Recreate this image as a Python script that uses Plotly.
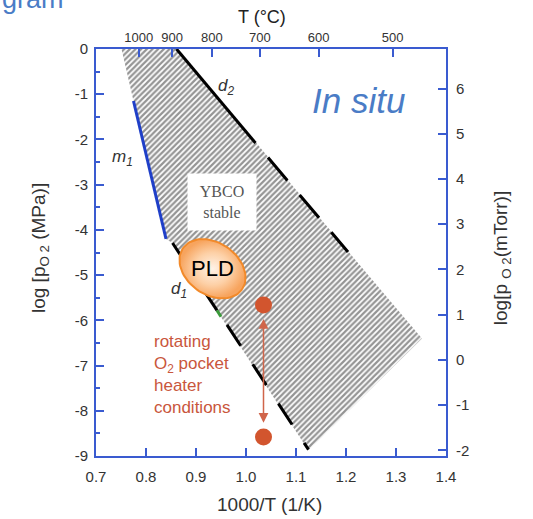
import numpy as np
import plotly.graph_objects as go

# ---------------- data ----------------
x_ticks = [0.7, 0.8, 0.9, 1.0, 1.1, 1.2, 1.3, 1.4]
x_tick_labels = ["0.7", "0.8", "0.9", "1.0", "1.1", "1.2", "1.3", "1.4"]
y_left_ticks = [0, -1, -2, -3, -4, -5, -6, -7, -8, -9]
y_left_labels = ["0", "-1", "-2", "-3", "-4", "-5", "-6", "-7", "-8", "-9"]
y_right_ticks = [-2, -1, 0, 1, 2, 3, 4, 5, 6]
y_right_labels = ["-2", "-1", "0", "1", "2", "3", "4", "5", "6"]
top_T_celsius = [1000, 900, 800, 700, 600, 500]

# YBCO stability region (1000/T, log pO2)
region_x = [0.751, 0.861, 1.352, 1.125, 0.853, 0.840, 0.775]
region_y = [0.0, 0.0, -6.40, -8.88, -4.29, -4.20, -1.15]

m1_x = [0.775, 0.840]
m1_y = [-1.15, -4.20]
d2_solid_x = [0.861, 1.019]
d2_solid_y = [0.0, -2.08]
d2_dash_x = [1.044, 1.204]
d2_dash_y = [-2.40, -4.49]
d1_solid_x = [0.853, 0.942]
d1_solid_y = [-4.29, -5.78]
d1_green_x = [0.942, 0.950]
d1_green_y = [-5.78, -5.92]
d1_dash_x = [0.962, 1.125]
d1_dash_y = [-6.10, -8.86]

heater_x = [1.035, 1.035]
heater_y = [-5.66, -8.58]
arrow_top = -5.97
arrow_bottom = -8.30

pld_center = (0.933, -4.86)

AXIS = "#3a5bd0"
FONT = "Liberation Sans, Arial, sans-serif"
RED = "#d2552e"

fig = go.Figure()

fig.add_trace(go.Scatter(
    x=region_x + [region_x[0]], y=region_y + [region_y[0]],
    mode="lines", fill="toself", line=dict(width=0, color="rgba(0,0,0,0)"),
    fillcolor="white",
    fillpattern=dict(shape="/", size=4, solidity=0.55, fgcolor="#2a2a2a", bgcolor="white"),
    hoverinfo="skip"))

fig.add_trace(go.Scatter(x=m1_x, y=m1_y, mode="lines", line=dict(color="#1f3fc8", width=3)))
fig.add_trace(go.Scatter(x=d2_solid_x, y=d2_solid_y, mode="lines", line=dict(color="black", width=3)))
fig.add_trace(go.Scatter(x=d2_dash_x, y=d2_dash_y, mode="lines",
                         line=dict(color="black", width=3, dash="30px,19px")))
fig.add_trace(go.Scatter(x=d1_solid_x, y=d1_solid_y, mode="lines", line=dict(color="black", width=3)))
fig.add_trace(go.Scatter(x=d1_green_x, y=d1_green_y, mode="lines", line=dict(color="#3a9a3a", width=3)))
fig.add_trace(go.Scatter(x=d1_dash_x, y=d1_dash_y, mode="lines",
                         line=dict(color="black", width=3, dash="25px,22px")))

# PLD ellipse (rotated, built in pixel space then converted to data units)
px_per_x = 350 / 0.7
px_per_y = 407 / 9.0
t = np.linspace(0, 2 * np.pi, 80)
a, b, ang = 36.0, 26.0, np.deg2rad(35)
ex = a * np.cos(t) * np.cos(ang) - b * np.sin(t) * np.sin(ang)
ey = a * np.cos(t) * np.sin(ang) + b * np.sin(t) * np.cos(ang)
fig.add_trace(go.Scatter(
    x=pld_center[0] + ex / px_per_x, y=pld_center[1] - ey / px_per_y,
    mode="lines", fill="toself", line=dict(color="#f28a2a", width=2),
    fillgradient=dict(type="radial", colorscale=[[0, "#fff3e8"], [0.55, "#fdd0a6"], [1, "#f7a45e"]]),
    hoverinfo="skip"))

fig.add_trace(go.Scatter(x=heater_x, y=heater_y, mode="markers",
                         marker=dict(color=RED, size=17, line=dict(width=0))))

# invisible trace to activate secondary axes
fig.add_trace(go.Scatter(x=[0.7], y=[0], xaxis="x2", yaxis="y2", mode="markers",
                         marker=dict(opacity=0), hoverinfo="skip"))

tick_font = dict(family=FONT, size=15, color="#333")
common = dict(showline=True, linecolor=AXIS, linewidth=2, ticks="inside", tickcolor=AXIS,
              tickwidth=2, ticklen=8, showgrid=False, zeroline=False, automargin=False)

fig.update_layout(
    width=533, height=519,
    margin=dict(l=96, r=87, t=49, b=63),
    plot_bgcolor="white", paper_bgcolor="white",
    showlegend=False,
    font=dict(family=FONT, color="#333"),
    xaxis=dict(range=[0.7, 1.4], tickvals=x_ticks, ticktext=x_tick_labels, tickfont=tick_font,
               ticklabelstandoff=6, **common),
    xaxis2=dict(range=[0.7, 1.4], overlaying="x", side="top",
                tickvals=[1000 / (T + 273.15) for T in top_T_celsius],
                ticktext=[str(T) for T in top_T_celsius],
                tickfont=dict(family=FONT, size=13, color="#333"), **common),
    yaxis=dict(range=[-9, 0], tickvals=y_left_ticks, ticktext=y_left_labels, tickfont=tick_font,
               minor=dict(ticks="inside", ticklen=4, tickcolor=AXIS, tickwidth=2, dtick=0.5, tick0=0),
               ticklabelstandoff=3, **common),
    yaxis2=dict(range=[-9 + 6.875, 0 + 6.875], overlaying="y", side="right",
                tickvals=y_right_ticks, ticktext=y_right_labels, tickfont=tick_font,
                ticklabelstandoff=5, **common),
)

title_font = dict(family=FONT, size=19, color="#333")
ann = []
ann.append(dict(text="T (°C)", xref="paper", yref="paper", x=0.474, y=1.079,
                xanchor="center", yanchor="middle",
                showarrow=False, font=dict(family=FONT, size=18, color="#222")))
ann.append(dict(text="1000/T (1/K)", xref="paper", yref="paper", x=0.497, y=-0.120,
                xanchor="center", yanchor="middle", showarrow=False, font=title_font))
ann.append(dict(text="log [p<sub>O 2</sub> (MPa)]", xref="paper", yref="paper", x=-0.16, y=0.511,
                xanchor="center", yanchor="middle", textangle=-90, showarrow=False, font=title_font))
ann.append(dict(text="log[p <sub>O 2</sub>(mTorr)]", xref="paper", yref="paper", x=1.16, y=0.486,
                xanchor="center", yanchor="middle", textangle=-90, showarrow=False, font=title_font))
ann.append(dict(text="gram", xref="paper", yref="paper", x=-0.274, y=1.0, yshift=33, xanchor="left",
                yanchor="bottom", showarrow=False, font=dict(family=FONT, size=27, color="#4a7cc6")))
ann.append(dict(text="<i>In situ</i>", x=1.225, y=-1.13, showarrow=False,
                font=dict(family=FONT, size=35, color="#4a7cc6")))
ann.append(dict(text="YBCO<br>stable", x=0.951, y=-3.38, showarrow=False, bgcolor="white",
                width=66, height=54,
                font=dict(family="Liberation Serif, DejaVu Serif, serif", size=16, color="#555")))
ann.append(dict(text="<i>m<sub>1</sub></i>", x=0.753, y=-2.42, showarrow=False,
                font=dict(family=FONT, size=17, color="#333")))
ann.append(dict(text="<i>d<sub>2</sub></i>", x=0.959, y=-0.85, showarrow=False,
                font=dict(family=FONT, size=17, color="#333")))
ann.append(dict(text="<i>d<sub>1</sub></i>", x=0.865, y=-5.33, showarrow=False,
                font=dict(family=FONT, size=17, color="#333")))
ann.append(dict(text="PLD", x=pld_center[0], y=pld_center[1], showarrow=False,
                font=dict(family=FONT, size=22, color="black")))
ann.append(dict(text="rotating<br>O<sub>2</sub> pocket<br>heater<br>conditions", x=0.811, y=-7.20,
                xanchor="left", showarrow=False, align="left",
                font=dict(family=FONT, size=17, color="#c9563c")))
ann.append(dict(text="", x=heater_x[0], y=arrow_top, ax=heater_x[0], ay=arrow_bottom,
                axref="x", ayref="y", showarrow=True, arrowhead=2, startarrowhead=2,
                arrowside="end+start", arrowcolor="#d0654a", arrowwidth=1.5, arrowsize=1.3,
                startarrowsize=1.3))
fig.update_layout(annotations=ann)

fig.write_html("out.html", config={"displayModeBar": False},
               post_script="document.body.style.margin='0';")
